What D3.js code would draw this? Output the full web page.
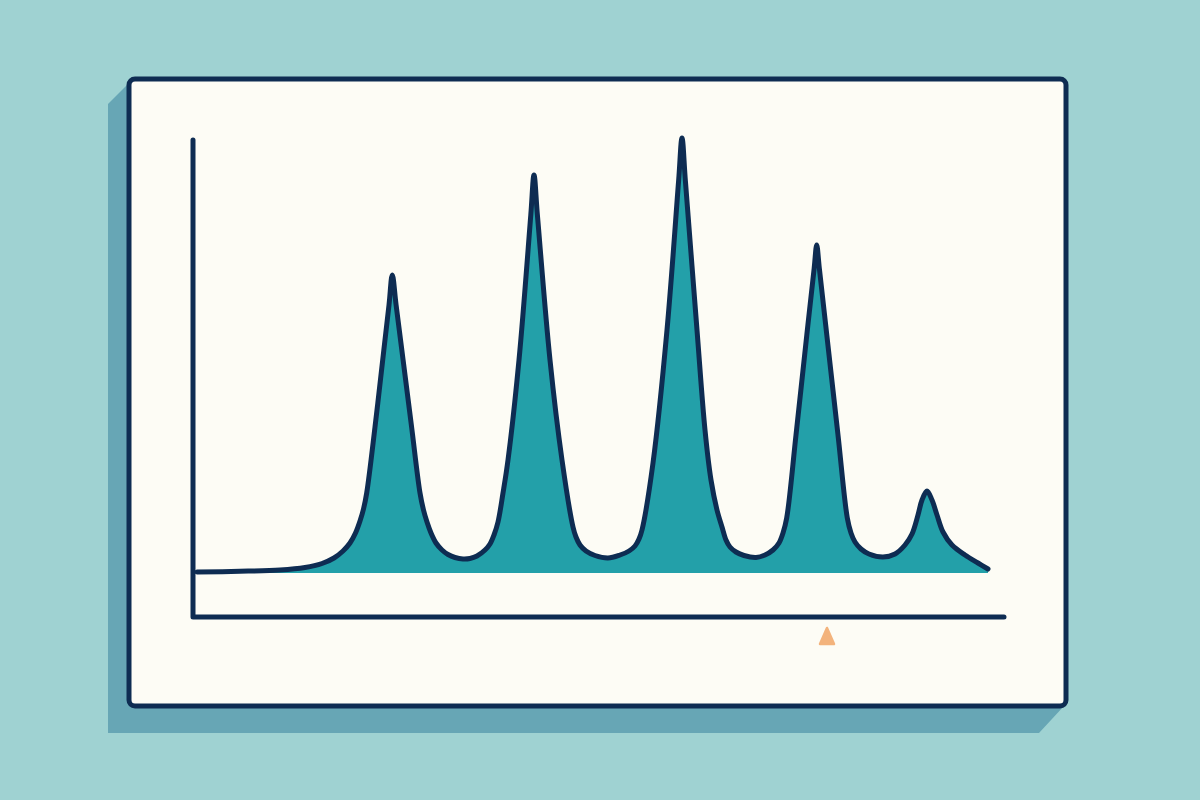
<!DOCTYPE html>
<html>
<head>
<meta charset="utf-8">
<script src="https://cdn.jsdelivr.net/npm/d3@7"></script>
<style>
  html, body { margin: 0; padding: 0; background: #9fd2d2; }
  svg { display: block; }
</style>
</head>
<body>
<svg id="chart" width="1200" height="800"></svg>
<script>
// ---- data (arbitrary units) ----
const shiftValues = [
  0, 43, 83, 108, 125, 137, 146, 153, 158.5, 163, 166.5, 169.7, 178, 185.7, 192, 195.3,
  199.1, 206.1, 214.6, 223, 226.5, 230, 234, 239, 245, 251, 258, 266,
  273, 280, 288, 293, 297, 301, 306, 311, 322, 333.8, 337,
  340.4, 353, 365, 376, 379, 383, 389, 398, 411,
  423, 432, 438, 442, 445, 456, 470, 481.6, 485,
  488.4, 500, 508, 514, 520, 525, 529, 533, 539, 547, 559,
  568, 576, 582, 586, 589.7, 599, 609.8, 617.2, 619.7,
  622.3, 629.8, 641, 650.3, 654, 658, 664, 672, 686,
  698, 708, 715, 721, 725, 730, 735, 740, 746, 755, 768, 781, 791
];
const intensityValues = [
  0, 0.7, 2, 4.5, 8.5, 14, 21, 29, 39, 51, 63, 79, 145, 212, 267, 297,
  267, 212, 145, 79, 62, 50, 39, 29, 22, 17.5, 14.5, 13,
  13.5, 16, 22, 28, 37, 50, 79, 112, 212, 357, 397,
  357, 212, 112, 45, 35, 27, 21, 16.5, 14,
  17, 21, 26, 33, 42, 109, 242, 391, 434,
  391, 242, 142, 92, 62, 45, 32, 25, 20, 16.5, 14.5,
  17, 22, 29, 39, 54, 137, 237, 304, 327,
  304, 237, 137, 54, 39, 30, 23, 18, 15,
  18, 27, 38, 57, 72, 81, 72, 57, 40, 27, 17, 9, 3
];
const markerShift = [630];

const data = shiftValues.map((s, i) => ({ s, v: intensityValues[i] }));

// ---- layout ----
const card = { x: 129, y: 79, w: 937, h: 627 };
const plot = { left: 197, right: 988, base: 572, top: 138 };
const frame = { axisX: 193, axisTop: 140, axisY: 617, axisRight: 1004 };

const colors = {
  shadow: "#67a6b5",
  card: "#fdfcf5",
  navy: "#0e2c52",
  fill: "#23a0a9",
  marker: "#f3b37c"
};

const svg = d3.select("#chart");

// shadow
const sx = -21, sy = 27;
svg.append("polygon")
  .attr("points", [
    [card.x, card.y + 4],
    [card.x + sx, card.y + 4 - sx],
    [card.x + sx, card.y + card.h + sy],
    [card.x + card.w - sy, card.y + card.h + sy],
    [card.x + card.w - 2, card.y + card.h],
    [card.x, card.y + card.h]
  ].map(p => p.join(",")).join(" "))
  .attr("fill", colors.shadow);

// card
svg.append("rect")
  .attr("x", card.x).attr("y", card.y)
  .attr("width", card.w).attr("height", card.h)
  .attr("rx", 6)
  .attr("fill", colors.card)
  .attr("stroke", colors.navy)
  .attr("stroke-width", 5);

// scales
const x = d3.scaleLinear().domain([0, 791]).range([plot.left, plot.right]);
const y = d3.scaleLinear().domain([0, 434]).range([plot.base, plot.top]);

const curve = d3.curveCatmullRom.alpha(0.5);

// area
const area = d3.area()
  .x(d => x(d.s))
  .y0(y(0) + 1)
  .y1(d => y(d.v))
  .curve(curve);

svg.append("path")
  .datum(data)
  .attr("d", area)
  .attr("fill", colors.fill);

const line = d3.line()
  .x(d => x(d.s))
  .y(d => y(d.v))
  .curve(curve);

svg.append("path")
  .datum(data)
  .attr("d", line)
  .attr("fill", "none")
  .attr("stroke", colors.navy)
  .attr("stroke-width", 5)
  .attr("stroke-linecap", "round")
  .attr("stroke-linejoin", "round");

// axes (plain lines, no ticks)
svg.append("path")
  .attr("d", `M${frame.axisX},${frame.axisTop}V${frame.axisY}H${frame.axisRight}`)
  .attr("fill", "none")
  .attr("stroke", colors.navy)
  .attr("stroke-width", 5)
  .attr("stroke-linecap", "round")
  .attr("stroke-linejoin", "round");

// marker triangle
svg.selectAll(".marker")
  .data(markerShift)
  .join("path")
  .attr("class", "marker")
  .attr("d", d => {
    const cx = x(d), top = 628, bottom = 644, half = 7;
    return `M${cx},${top}L${cx + half},${bottom}L${cx - half},${bottom}Z`;
  })
  .attr("fill", colors.marker)
  .attr("stroke", colors.marker)
  .attr("stroke-width", 2.5)
  .attr("stroke-linejoin", "round");
</script>
</body>
</html>
